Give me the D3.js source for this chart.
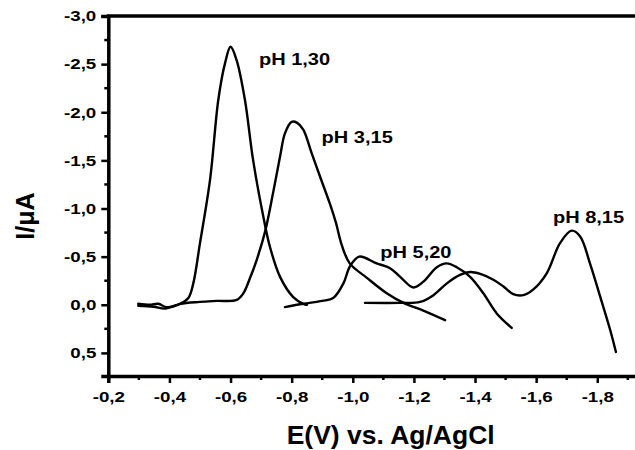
<!DOCTYPE html>
<html>
<head>
<meta charset="utf-8">
<script src="https://cdn.jsdelivr.net/npm/d3@7"></script>
<style>
  html, body { margin: 0; padding: 0; background: #fff; }
  svg { display: block; }
  text { font-family: "Liberation Sans", Arial, sans-serif; font-weight: bold; fill: #000; }
</style>
</head>
<body>
<svg id="chart" width="635" height="450"></svg>
<script>
// ---- data ----
const xTicks = [-0.2, -0.4, -0.6, -0.8, -1.0, -1.2, -1.4, -1.6, -1.8];
const yTicks = [-3.0, -2.5, -2.0, -1.5, -1.0, -0.5, 0.0, 0.5];
const xLabel = "E(V) vs. Ag/AgCl";
const yLabel = "I/\u03BCA";

const seriesNames = ["pH 1,30", "pH 3,15", "pH 5,20", "pH 8,15"];

const pH130_E = [-0.298,-0.336,-0.364,-0.391,-0.435,-0.462,-0.478,-0.50,-0.533,-0.56,-0.582,-0.60,-0.62,-0.647,-0.674,-0.707,-0.729,-0.762,-0.805,-0.838,-0.85];
const pH130_I = [-0.01,0.0,-0.01,0.025,-0.01,-0.07,-0.22,-0.64,-1.30,-2.13,-2.51,-2.68,-2.54,-2.13,-1.50,-0.92,-0.60,-0.29,-0.08,-0.01,0.0];

const pH315_E = [-0.298,-0.348,-0.386,-0.435,-0.50,-0.555,-0.62,-0.642,-0.664,-0.686,-0.713,-0.739,-0.762,-0.778,-0.80,-0.818,-0.838,-0.866,-0.893,-0.925,-0.945,-0.964,-0.99,-1.046,-1.111,-1.166,-1.231,-1.302];
const pH315_I = [0.01,0.02,0.04,-0.01,-0.03,-0.04,-0.05,-0.12,-0.28,-0.47,-0.76,-1.16,-1.54,-1.78,-1.90,-1.89,-1.82,-1.57,-1.33,-1.05,-0.85,-0.62,-0.43,-0.28,-0.12,-0.02,0.06,0.16];

const pH520_E = [-0.778,-0.838,-0.90,-0.936,-0.969,-0.991,-1.021,-1.078,-1.122,-1.155,-1.198,-1.231,-1.275,-1.307,-1.34,-1.384,-1.427,-1.471,-1.52];
const pH520_I = [0.024,-0.01,-0.04,-0.07,-0.22,-0.40,-0.50,-0.43,-0.38,-0.29,-0.18,-0.24,-0.39,-0.43,-0.39,-0.29,-0.12,0.09,0.24];

const pH815_E = [-1.04,-1.155,-1.22,-1.264,-1.307,-1.351,-1.384,-1.417,-1.46,-1.493,-1.525,-1.558,-1.591,-1.635,-1.678,-1.716,-1.744,-1.776,-1.809,-1.842,-1.861];
const pH815_I = [-0.02,-0.02,-0.03,-0.10,-0.22,-0.31,-0.34,-0.32,-0.26,-0.19,-0.11,-0.10,-0.16,-0.33,-0.64,-0.77,-0.71,-0.43,-0.09,0.26,0.49];

// label anchor values (E, I) for series names
const labelE = [-0.693, -0.898, -1.09, -1.655];
const labelI = [-2.49, -1.68, -0.49, -0.85];

// ---- drawing ----
const W = 635, H = 450;
const svg = d3.select("#chart");

const x = d3.scaleLinear().domain([-0.2, -2.0]).range([108.3, 658.4]);
const y = d3.scaleLinear().domain([0.74, -3.0]).range([376, 16]);

const fmt = v => (v < -1e-9 ? "-" : "") + Math.abs(v).toFixed(1).replace(".", ",");
const SX = 1.25; // horizontal stretch of the reference lettering

// curves
const series = [
  {E: pH130_E, I: pH130_I},
  {E: pH315_E, I: pH315_I},
  {E: pH520_E, I: pH520_I},
  {E: pH815_E, I: pH815_I}
];
const line = d3.line()
  .x(d => x(d[0])).y(d => y(d[1]))
  .curve(d3.curveCatmullRom.alpha(0.5));

svg.append("g").selectAll("path")
  .data(series)
  .join("path")
  .attr("d", s => line(s.E.map((e, i) => [e, s.I[i]])))
  .attr("fill", "none")
  .attr("stroke", "#000")
  .attr("stroke-width", 2.4)
  .attr("stroke-linejoin", "round")
  .attr("stroke-linecap", "round");

// minor ticks
const xMinor = d3.range(-0.3, -2.0, -0.2);
const yMinor = d3.range(-2.75, 0.75, 0.5);

const gx = svg.append("g").attr("transform", `translate(0,${y(0.74)})`);
gx.call(d3.axisBottom(x).tickValues(xTicks).tickFormat(fmt).tickSize(7).tickPadding(8));
gx.append("g").selectAll("line").data(xMinor).join("line")
  .attr("x1", d => x(d)).attr("x2", d => x(d)).attr("y1", 0).attr("y2", 4)
  .attr("stroke", "#000").attr("stroke-width", 2.5);

const gy = svg.append("g").attr("transform", `translate(${x(-0.2)},0)`);
gy.call(d3.axisLeft(y).tickValues(yTicks).tickFormat(fmt).tickSize(7).tickPadding(5));
gy.append("g").selectAll("line").data(yMinor).join("line")
  .attr("x1", 0).attr("x2", -4).attr("y1", d => y(d)).attr("y2", d => y(d))
  .attr("stroke", "#000").attr("stroke-width", 2.5);

[gx, gy].forEach(g => {
  g.select(".domain").attr("stroke", "#000").attr("stroke-width", 3.5);
  g.selectAll(".tick line").attr("stroke", "#000").attr("stroke-width", 2.5);
  g.selectAll(".tick text").attr("font-size", 15).attr("fill", "#000")
    .style("font-family", '"Liberation Sans", Arial, sans-serif').style("font-weight", "bold");
});
gy.selectAll(".tick text").attr("x", -12 / SX).attr("transform", `scale(${SX},1)`);
gx.selectAll(".tick text").attr("transform", `scale(${SX},1)`);

// top frame line
svg.append("line")
  .attr("x1", x(-0.2) - 1.5).attr("x2", W + 5)
  .attr("y1", y(-3.0)).attr("y2", y(-3.0))
  .attr("stroke", "#000").attr("stroke-width", 3.5);

// series labels
svg.append("g").selectAll("text")
  .data(seriesNames)
  .join("text")
  .attr("transform", (d, i) => `translate(${x(labelE[i])},${y(labelI[i])}) scale(${SX},1)`)
  .attr("font-size", 16)
  .text(d => d);

// axis titles
svg.append("text")
  .attr("transform", `translate(${(x(-0.2) + W) / 2 + 19},444) scale(1.06,1)`)
  .attr("text-anchor", "middle")
  .attr("font-size", 25)
  .text(xLabel);

svg.append("text")
  .attr("transform", `translate(34,216) rotate(-90)`)
  .attr("text-anchor", "middle")
  .attr("font-size", 25)
  .text(yLabel);
</script>
</body>
</html>
